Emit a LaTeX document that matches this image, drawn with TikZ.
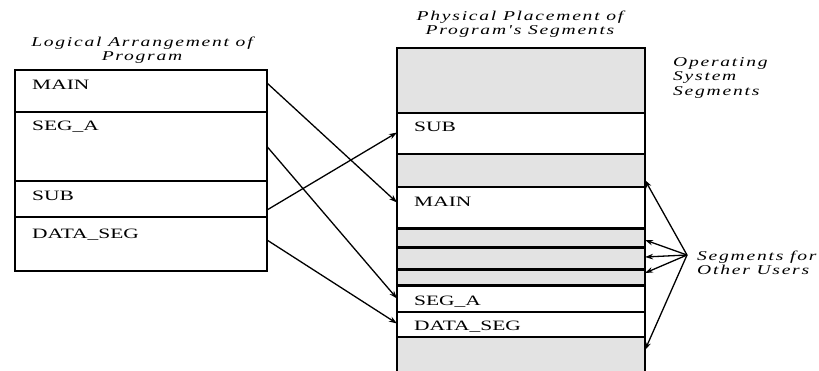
\documentclass[tikz,border=0pt]{standalone}
\usepackage{fontspec}
\setmainfont[FakeStretch=1.5]{Liberation Serif}
\newfontfamily\titlefont[FakeStretch=1.45,LetterSpace=13]{Liberation Serif}
\usetikzlibrary{arrows.meta}

\begin{document}
\begin{tikzpicture}[x=1pt,y=-1pt,font=\fontsize{14.3}{14}\selectfont,
    box/.style={draw,line width=1.4pt,inner sep=0pt,outer sep=0pt,anchor=north west,minimum height=#1},
    lbox/.style={box=#1,minimum width=252pt},
    rbox/.style={box=#1,minimum width=248pt},
    used/.style={fill=gray!22},
    txt/.style={anchor=west,inner sep=0pt,xshift=17pt,yshift=-15pt},
    divider/.style={line width=#1},
    link/.style={-{Stealth[length=8pt,width=5.5pt]},line width=1.3pt},
    title/.style={font=\titlefont\fontsize{13.5}{14.5}\selectfont\itshape,align=center,inner sep=0pt}]
  \useasboundingbox (0,0) rectangle (819,370);
  \node[title] (logical) at (142,50) {Logical Arrangement of\\Program};
  \node[title] (physical) at (520,24) {Physical Placement of\\Program's Segments};
  \node[lbox=42pt,label={[txt]north west:MAIN}] (lmain) at (15,70) {};
  \node[lbox=69pt,label={[txt]north west:SEG\_A}] (lsega) at (15,112) {};
  \node[lbox=36pt,label={[txt]north west:SUB}] (lsub) at (15,181) {};
  \node[lbox=54pt,label={[txt,yshift=-3pt]north west:DATA\_SEG}] (ldata) at (15,217) {};
  \draw[divider=2.2pt] (lsega.north west) -- (lsega.north east);
  \draw[divider=2.2pt] (lsub.north west) -- (lsub.north east);
  \draw[divider=2.2pt] (ldata.north west) -- (ldata.north east);
  \node[rbox=65pt,used] (os) at (397,48) {};
  \node[rbox=41pt,label={[txt,yshift=1pt]north west:SUB}] (rsub) at (397,113) {};
  \node[rbox=33pt,used] (free1) at (397,154) {};
  \node[rbox=41pt,label={[txt]north west:MAIN}] (rmain) at (397,187) {};
  \node[rbox=19pt,used] (u1) at (397,228) {};
  \node[rbox=22pt,used] (u2) at (397,247) {};
  \node[rbox=16pt,used] (u3) at (397,269) {};
  \node[rbox=27pt,label={[txt,yshift=-2pt]north west:SEG\_A}] (rsega) at (397,285) {};
  \node[rbox=25pt,label={[txt]north west:DATA\_SEG}] (rdata) at (397,312) {};
  \node[rbox=40pt,used] (free2) at (397,337) {};
  \foreach \n in {u1,u2,u3,rsega}
    \draw[divider=3pt] (\n.north west) -- (\n.north east);
  \draw[link] ([yshift=8pt]lmain.east) -- ([yshift=5pt]rmain.west);
  \draw[link] (lsega.east) -- (rsega.west);
  \draw[link] ([yshift=-11pt]lsub.east) -- ([yshift=1pt]rsub.west);
  \draw[link] ([yshift=4pt]ldata.east) -- ([yshift=1pt]rdata.west);
  \node[title,anchor=north west,align=left] (ossegs) at (673,57) {Operating\\System\\Segments};
  \node[title,anchor=west,align=left] (others) at (697,263) {Segments for\\Other Users};
  \coordinate (fan) at ([xshift=-10pt,yshift=8pt]others.west);
  \foreach \t/\s in {free1/-9.5,u1/-2.5,u2/1,u3/4,free2/7}
    \draw[link] (fan) -- ([yshift=\s pt]\t.east);
\end{tikzpicture}
\end{document}
